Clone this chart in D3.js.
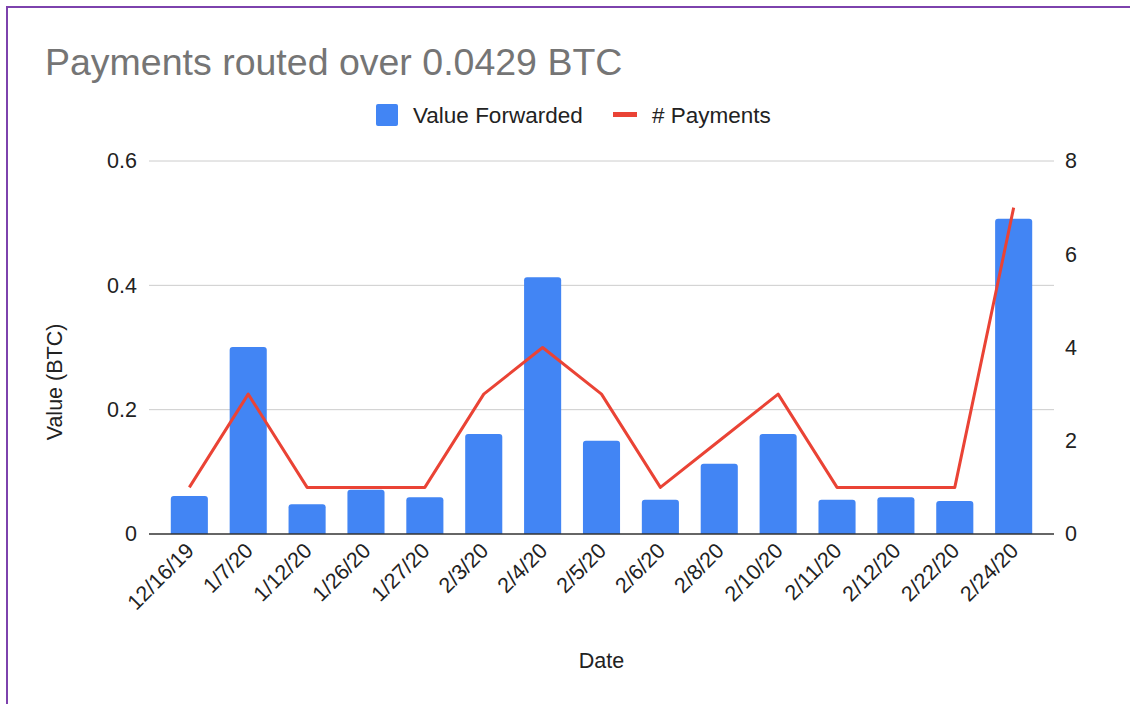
<!DOCTYPE html>
<html>
<head>
<meta charset="utf-8">
<script src="https://cdn.jsdelivr.net/npm/d3@7"></script>
<style>
  html, body { margin: 0; padding: 0; background: #fff; }
  svg { display: block; font-family: "Liberation Sans", Arial, sans-serif; }
</style>
</head>
<body>
<div id="chart"></div>
<script>
// Chart data
const dates = ['12/16/19', '1/7/20', '1/12/20', '1/26/20', '1/27/20', '2/3/20', '2/4/20', '2/5/20',
    '2/6/20', '2/8/20', '2/10/20', '2/11/20', '2/12/20', '2/22/20', '2/24/20'];
const valueForwarded = [0.061, 0.301, 0.048, 0.071, 0.059, 0.161, 0.413, 0.150,
    0.055, 0.113, 0.161, 0.055, 0.059, 0.053, 0.507];
const payments = [1, 3, 1, 1, 1, 3, 4, 3, 1, 2, 3, 1, 1, 1, 7];
const leftTicks = [0, 0.2, 0.4, 0.6];
const rightTicks = [0, 2, 4, 6, 8];

const width = 1130, height = 704;
const margin = { top: 161, right: 76, bottom: 170, left: 149 };
const blue = '#4285f4', red = '#ea4335';
const labelSize = '21.5px';

const svg = d3.select('#chart')
    .append('svg')
    .attr('width', width)
    .attr('height', height);

// Frame border (only top/left visible)
svg.append('rect')
    .attr('x', 7)
    .attr('y', 7)
    .attr('width', width + 20)
    .attr('height', height + 20)
    .attr('fill', 'none')
    .attr('stroke', '#7d42ad')
    .attr('stroke-width', 2);

const x = d3.scaleBand()
    .domain(dates)
    .range([margin.left, width - margin.right])
    .paddingInner(0.37)
    .paddingOuter(0.37);

const y = d3.scaleLinear()
    .domain([0, 0.6])
    .range([height - margin.bottom, margin.top]);

const y2 = d3.scaleLinear()
    .domain([0, 8])
    .range([height - margin.bottom, margin.top]);

// Title
svg.append('text')
    .attr('x', 45)
    .attr('y', 75)
    .attr('fill', '#757575')
    .style('font-size', '37.5px')
    .text('Payments routed over 0.0429 BTC');

// Legend
const legend = svg.append('g');
legend.append('rect')
    .attr('x', 376).attr('y', 104)
    .attr('width', 22).attr('height', 22)
    .attr('rx', 2)
    .attr('fill', blue);
legend.append('text')
    .attr('x', 413).attr('y', 123)
    .attr('fill', '#222')
    .style('font-size', '22.5px')
    .text('Value Forwarded');
legend.append('rect')
    .attr('x', 613).attr('y', 112)
    .attr('width', 24).attr('height', 5)
    .attr('fill', red);
legend.append('text')
    .attr('x', 652).attr('y', 123)
    .attr('fill', '#222')
    .style('font-size', '22.5px')
    .text('# Payments');

// Gridlines
svg.append('g')
    .selectAll('line')
    .data(leftTicks.filter(d => d > 0))
    .enter().append('line')
    .attr('x1', margin.left)
    .attr('x2', width - margin.right)
    .attr('y1', d => y(d))
    .attr('y2', d => y(d))
    .attr('stroke', '#cccccc')
    .attr('stroke-width', 1);

// Left axis
const leftAxis = svg.append('g')
    .attr('transform', `translate(${margin.left},0)`)
    .call(d3.axisLeft(y).tickValues(leftTicks).tickFormat(d => d === 0 ? '0' : d3.format('.1f')(d)).tickSize(0).tickPadding(12));
leftAxis.select('.domain').remove();
leftAxis.selectAll('text')
    .attr('fill', '#222')
    .style('font-size', labelSize)
    .style('font-family', '"Liberation Sans", Arial, sans-serif');

// Right axis
const rightAxis = svg.append('g')
    .attr('transform', `translate(${width - margin.right},0)`)
    .call(d3.axisRight(y2).tickValues(rightTicks).tickSize(0).tickPadding(11));
rightAxis.select('.domain').remove();
rightAxis.selectAll('text')
    .attr('fill', '#222')
    .style('font-size', labelSize)
    .style('font-family', '"Liberation Sans", Arial, sans-serif');

// Bars with rounded top corners
const r = 3;
svg.append('g')
    .selectAll('path')
    .data(dates.map((d, i) => ({ date: d, value: valueForwarded[i] })))
    .enter().append('path')
    .attr('fill', blue)
    .attr('d', d => {
        const x0 = x(d.date), w = x.bandwidth();
        const top = y(d.value), bottom = y(0);
        return `M${x0},${bottom}V${top + r}Q${x0},${top} ${x0 + r},${top}H${x0 + w - r}Q${x0 + w},${top} ${x0 + w},${top + r}V${bottom}Z`;
    });

// Baseline
svg.append('line')
    .attr('x1', margin.left)
    .attr('x2', width - margin.right)
    .attr('y1', y(0))
    .attr('y2', y(0))
    .attr('stroke', '#333')
    .attr('stroke-width', 1.5);

// Payments line
const line = d3.line()
    .x((d, i) => x(dates[i]) + x.bandwidth() / 2)
    .y(d => y2(d));
svg.append('path')
    .datum(payments)
    .attr('fill', 'none')
    .attr('stroke', red)
    .attr('stroke-width', 3)
    .attr('stroke-linejoin', 'round')
    .attr('d', line);

// X axis labels
const xAxis = svg.append('g')
    .attr('transform', `translate(0,${y(0)})`)
    .call(d3.axisBottom(x).tickSize(0).tickPadding(0));
xAxis.select('.domain').remove();
xAxis.selectAll('text')
    .attr('fill', '#222')
    .style('font-size', labelSize)
    .style('font-family', '"Liberation Sans", Arial, sans-serif')
    .attr('text-anchor', 'end')
    .attr('dy', null)
    .attr('transform', 'translate(6,18) rotate(-45)');

// Axis titles
svg.append('text')
    .attr('x', (margin.left + width - margin.right) / 2)
    .attr('y', 668)
    .attr('text-anchor', 'middle')
    .attr('fill', '#222')
    .style('font-size', labelSize)
    .text('Date');

svg.append('text')
    .attr('transform', 'translate(62,382) rotate(-90)')
    .attr('text-anchor', 'middle')
    .attr('fill', '#222')
    .style('font-size', labelSize)
    .text('Value (BTC)');
</script>
</body>
</html>
